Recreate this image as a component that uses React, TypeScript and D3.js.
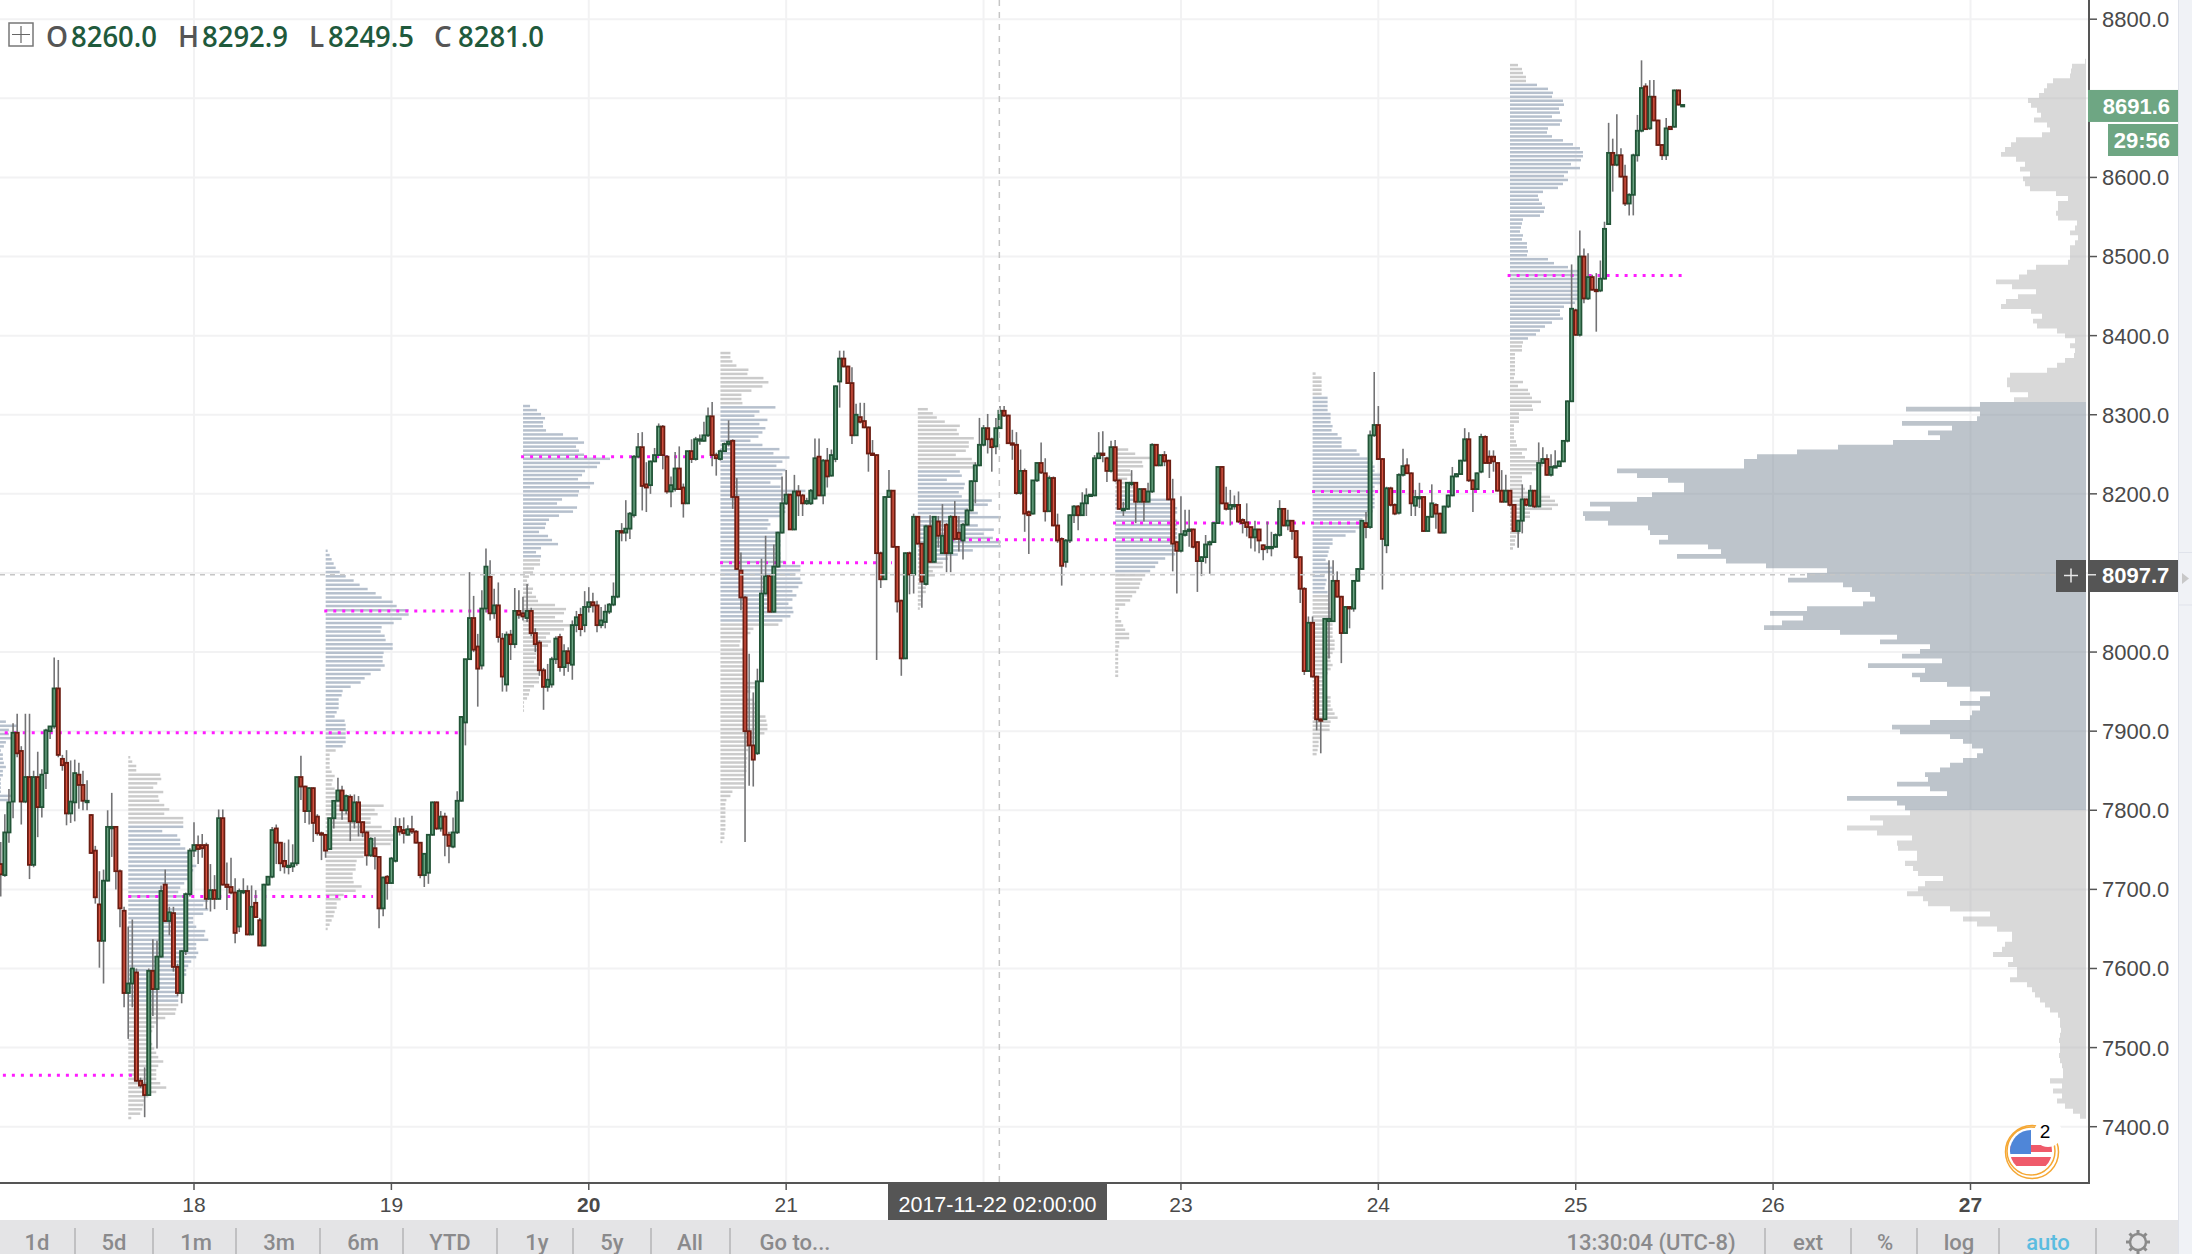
import React from 'react'
import * as d3 from 'd3'

const width = 2192, height = 1254

// 30 minute bars, the first one opens at day 17 00:00
const barsPerDay = 48
const firstDay = 17
const opens = [
  7678,7732,7718,7772,7811,7898,7875,7811,7842,7731,
  7842,7804,7847,7900,7906,7954,7865,7860,7796,7810,
  7845,7832,7812,7794,7749,7681,7635,7711,7779,7779,
  7723,7673,7569,7581,7595,7458,7453,7440,7597,7574,
  7615,7706,7660,7670,7602,7569,7622,7694,7749,7756,
  7756,7756,7688,7699,7688,7790,7706,7703,7696,7653,
  7698,7698,7643,7683,7661,7629,7706,7716,7777,7759,
  7736,7730,7729,7733,7842,7830,7799,7828,7792,7771,
  7769,7751,7790,7812,7825,7800,7817,7786,7810,7785,
  7772,7743,7752,7741,7676,7716,7708,7736,7779,7775,
  7769,7776,7773,7759,7718,7721,7769,7810,7777,7792,
  7769,7754,7772,7812,7911,7991,8043,8007,7983,8055,
  8095,8049,8059,8017,7959,8022,8010,8052,8049,8043,
  8052,8024,8012,7977,7956,7959,7991,8019,7981,8001,
  7984,8034,8047,8034,8057,8063,8059,8034,8038,8051,
  8060,8070,8153,8151,8156,8173,8247,8259,8212,8211,
  8241,8249,8285,8247,8203,8206,8232,8208,8188,8254,
  8244,8269,8267,8274,8298,8249,8244,8254,8263,8267,
  8196,8103,8069,7900,7882,7872,7963,8074,8096,8051,
  8108,8151,8188,8199,8155,8203,8198,8188,8188,8194,
  8247,8198,8242,8223,8244,8342,8371,8361,8340,8274,
  8297,8292,8284,8251,8249,8125,8092,8196,8204,8133,
  8065,7992,8125,8098,8171,8137,8086,8159,8114,8165,
  8125,8161,8125,8171,8151,8141,8161,8179,8216,8236,
  8262,8283,8269,8260,8283,8305,8299,8264,8262,8201,
  8229,8177,8175,8217,8239,8226,8178,8220,8160,8143,
  8114,8141,8173,8184,8173,8188,8198,8198,8245,8251,
  8245,8229,8259,8217,8181,8181,8214,8214,8190,8206,
  8190,8203,8262,8236,8249,8242,8193,8139,8128,8148,
  8153,8155,8139,8115,8120,8136,8139,8163,8234,8188,
  8181,8186,8186,8167,8164,8158,8145,8155,8135,8133,
  8133,8133,8148,8181,8160,8166,8153,8120,8080,7976,
  8037,7969,7915,7915,8039,8039,8090,8070,8024,8057,
  8055,8090,8105,8163,8158,8274,8287,8244,8135,8207,
  8186,8176,8224,8236,8226,8185,8196,8196,8153,8171,
  8186,8175,8151,8184,8198,8222,8225,8242,8269,8217,
  8206,8228,8272,8247,8247,8239,8204,8190,8204,8186,
  8153,8166,8193,8185,8204,8184,8239,8244,8224,8234,
  8235,8241,8267,8317,8432,8401,8500,8447,8474,8458,
  8457,8472,8541,8631,8616,8628,8601,8567,8578,8628,
  8659,8715,8662,8702,8672,8641,8628,8664,8664,8710,
  8691.6,
]
const closes = [
  7718,7719,7772,7810,7898,7872,7811,7842,7731,7842,
  7804,7845,7901,7906,7954,7870,7857,7796,7811,7847,
  7832,7812,7812,7746,7690,7635,7711,7779,7779,7723,
  7676,7569,7581,7600,7458,7452,7440,7597,7574,7615,
  7698,7660,7671,7602,7569,7622,7694,7749,7756,7751,
  7752,7688,7699,7688,7790,7706,7703,7696,7645,7698,
  7698,7643,7678,7665,7629,7706,7716,7775,7759,7733,
  7729,7730,7733,7842,7830,7799,7828,7784,7771,7769,
  7749,7790,7812,7825,7800,7818,7786,7810,7785,7772,
  7743,7764,7742,7676,7715,7708,7739,7779,7773,7771,
  7776,7773,7759,7718,7745,7769,7810,7777,7792,7769,
  7755,7772,7812,7918,7991,8043,8003,7979,8055,8108,
  8049,8059,8019,7969,8022,8010,8052,8047,8045,8052,
  8024,8010,7977,7956,7965,7991,8017,7981,8001,7986,
  8034,8044,8029,8057,8063,8059,8034,8040,8051,8060,
  8070,8153,8151,8156,8175,8247,8259,8210,8208,8241,
  8249,8285,8249,8203,8211,8232,8206,8188,8254,8244,
  8269,8269,8274,8298,8249,8245,8254,8263,8266,8196,
  8105,8069,7900,7882,7864,7963,8074,8096,8051,8108,
  8151,8188,8199,8155,8203,8198,8188,8191,8204,8245,
  8198,8242,8222,8249,8336,8371,8361,8340,8274,8300,
  8291,8284,8251,8249,8125,8092,8196,8204,8133,8064,
  7992,8125,8098,8171,8137,8089,8159,8114,8171,8147,
  8147,8125,8171,8143,8143,8161,8179,8216,8236,8262,
  8283,8269,8259,8283,8305,8299,8264,8262,8201,8229,
  8175,8173,8217,8239,8227,8178,8220,8160,8141,8109,
  8141,8173,8184,8173,8188,8198,8199,8245,8251,8249,
  8229,8259,8217,8181,8181,8214,8214,8190,8206,8190,
  8203,8262,8236,8249,8241,8193,8137,8128,8149,8153,
  8155,8133,8115,8120,8136,8139,8163,8234,8188,8181,
  8186,8186,8165,8163,8158,8145,8155,8141,8130,8133,
  8133,8148,8181,8160,8166,8153,8120,8080,7976,8037,
  7969,7915,7914,8042,8042,8090,8070,8024,8057,8055,
  8090,8105,8166,8158,8274,8287,8244,8143,8207,8186,
  8175,8224,8235,8226,8188,8196,8196,8153,8171,8188,
  8175,8151,8184,8198,8222,8225,8242,8269,8217,8206,
  8226,8272,8239,8239,8241,8204,8190,8204,8186,8153,
  8166,8193,8186,8204,8184,8239,8244,8224,8234,8235,
  8241,8267,8317,8434,8401,8500,8447,8474,8458,8457,
  8472,8535,8631,8616,8628,8601,8567,8578,8628,8659,
  8713,8661,8702,8672,8641,8628,8662,8661,8710,8692,
  8691.6,
]
const highs = [
  7770,7760,7795,7827,7910,7922,7881,7922,7922,7850,
  7874,7852,7903,7906,7993,7990,7870,7876,7863,7864,
  7860,7850,7838,7795,7755,7723,7725,7800,7822,7780,
  7725,7678,7653,7662,7600,7462,7475,7600,7637,7635,
  7705,7725,7678,7678,7606,7623,7696,7752,7785,7768,
  7770,7759,7732,7718,7801,7801,7734,7740,7714,7701,
  7714,7705,7705,7699,7664,7707,7716,7779,7782,7760,
  7759,7763,7757,7842,7869,7831,7829,7829,7795,7773,
  7770,7790,7813,7841,7831,7820,7820,7820,7818,7786,
  7773,7766,7766,7742,7716,7718,7741,7791,7790,7791,
  7781,7793,7775,7760,7745,7770,7811,7811,7799,7797,
  7773,7791,7824,7919,7991,8101,8071,8023,8078,8131,
  8116,8080,8088,8024,8026,8028,8081,8078,8070,8086,
  8056,8030,8015,7980,7985,7994,8020,8023,8010,8006,
  8040,8052,8056,8077,8082,8075,8065,8057,8060,8062,
  8088,8153,8163,8192,8177,8249,8277,8278,8240,8242,
  8258,8289,8287,8249,8222,8253,8260,8213,8254,8269,
  8272,8275,8291,8309,8316,8252,8256,8265,8293,8269,
  8220,8126,8071,7998,7949,7979,8118,8147,8097,8136,
  8152,8222,8230,8200,8224,8211,8200,8195,8206,8270,
  8270,8244,8258,8256,8337,8381,8381,8362,8360,8314,
  8315,8315,8285,8268,8250,8127,8197,8230,8205,8134,
  8066,8126,8127,8175,8172,8138,8161,8173,8172,8172,
  8187,8163,8173,8191,8172,8163,8181,8217,8240,8296,
  8287,8301,8271,8296,8311,8311,8300,8281,8278,8256,
  8232,8179,8217,8240,8265,8245,8223,8222,8175,8145,
  8143,8174,8186,8186,8202,8207,8199,8249,8278,8279,
  8247,8267,8268,8218,8190,8215,8230,8215,8207,8207,
  8214,8264,8263,8249,8254,8243,8219,8139,8197,8180,
  8180,8156,8140,8121,8148,8141,8164,8235,8235,8209,
  8205,8198,8203,8169,8188,8158,8166,8156,8136,8165,
  8152,8150,8192,8181,8180,8167,8154,8121,8082,8045,
  8045,7970,7916,8043,8116,8116,8102,8071,8058,8058,
  8091,8106,8167,8177,8280,8354,8311,8245,8209,8209,
  8188,8226,8257,8245,8227,8205,8214,8197,8171,8212,
  8188,8176,8185,8199,8234,8226,8243,8283,8278,8218,
  8227,8276,8274,8255,8255,8240,8230,8224,8205,8187,
  8167,8212,8194,8211,8205,8265,8259,8250,8250,8255,
  8242,8268,8318,8490,8434,8533,8510,8504,8477,8479,
  8495,8544,8669,8649,8680,8637,8616,8580,8630,8679,
  8748,8719,8723,8723,8673,8642,8675,8665,8711,8711,
  8691.6,
]
const lows = [
  7660,7691,7716,7759,7790,7867,7782,7809,7713,7728,
  7766,7791,7827,7890,7903,7867,7850,7781,7784,7786,
  7802,7800,7800,7745,7682,7601,7581,7710,7741,7700,
  7652,7551,7511,7551,7457,7449,7412,7439,7540,7499,
  7614,7659,7642,7596,7565,7556,7617,7691,7741,7732,
  7740,7675,7672,7675,7687,7705,7674,7694,7632,7646,
  7694,7642,7642,7664,7629,7628,7705,7714,7732,7723,
  7720,7719,7722,7730,7813,7784,7782,7760,7768,7737,
  7740,7750,7777,7811,7788,7795,7761,7777,7767,7766,
  7730,7741,7725,7651,7666,7687,7707,7734,7768,7758,
  7768,7770,7758,7714,7703,7707,7768,7775,7773,7742,
  7733,7752,7770,7811,7882,7990,8000,7931,7978,8050,
  8040,8042,8012,7950,7950,7990,8005,8042,8040,8038,
  8020,8000,7970,7927,7950,7955,7985,7975,7970,7975,
  7965,8025,8020,8025,8050,8050,8025,8030,8030,8048,
  8058,8068,8140,8140,8143,8170,8245,8179,8177,8200,
  8240,8248,8231,8200,8183,8203,8205,8170,8187,8239,
  8242,8262,8266,8272,8235,8223,8242,8253,8260,8181,
  8104,8053,7760,7831,7830,7870,7963,8073,8050,8050,
  8107,8150,8186,8155,8154,8172,8172,8186,8186,8193,
  8197,8187,8208,8222,8240,8309,8360,8339,8263,8273,
  8289,8283,8228,8248,7990,8081,8091,8195,8132,8050,
  7970,7991,8073,8074,8136,8056,8084,8113,8113,8132,
  8124,8101,8101,8141,8127,8117,8160,8178,8188,8235,
  8260,8251,8228,8250,8282,8297,8263,8243,8199,8199,
  8152,8124,8174,8215,8225,8165,8177,8159,8138,8084,
  8107,8138,8163,8154,8172,8172,8197,8197,8244,8240,
  8215,8227,8215,8180,8172,8180,8210,8163,8189,8165,
  8189,8201,8235,8235,8235,8192,8102,8074,8126,8146,
  8133,8131,8076,8096,8112,8099,8138,8162,8187,8179,
  8160,8180,8163,8150,8146,8131,8127,8125,8116,8125,
  8121,8132,8146,8159,8154,8142,8118,8062,7971,7975,
  7968,7901,7872,7914,7992,8038,8069,7986,8023,8030,
  8051,8089,8104,8144,8156,8272,8243,8079,8125,8184,
  8173,8174,8222,8225,8172,8172,8182,8152,8152,8170,
  8156,8150,8150,8182,8197,8221,8224,8241,8215,8177,
  8205,8226,8238,8220,8228,8203,8189,8189,8184,8152,
  8132,8150,8184,8184,8182,8183,8238,8223,8222,8233,
  8234,8240,8265,8316,8400,8399,8441,8445,8457,8405,
  8455,8471,8540,8582,8614,8600,8564,8552,8552,8620,
  8657,8660,8660,8671,8640,8622,8622,8660,8663,8691,
  8691.6,
]

// session volume profiles, one per 16:00 session, rows listed top to bottom
const session0 = [75,86,78,78,80,75,73,70,72,72,73,75,72,72,70,70,70,70,80,78]
const session1 = [2,4,8,8,32,33,29,25,35,30,31,36,41,36,55,55,55,34,49,52,52,57,60,62,63,68,65,62,62,56,52,50,60,80,75,80,75,65,65,68,77,76,80,68,68,70,68,63,60,58,58,53,52,50,50,50,50,50,48,47,37,28,26,24,22,22,24,26,28,30,35,30,28,28,28,32,38,28,20,16,15,14,12,3]
const session2 = [2,4,6,8,10,14,20,28,34,42,50,56,67,71,83,83,76,68,56,55,59,60,67,67,58,57,57,59,55,45,39,35,25,17,16,13,13,13,11,9,19,20,20,20,20,20,17,10,4,4,4,4,6,9,7,6,9,12,11,18,58,49,52,45,45,56,65,69,69,65,51,45,38,31,30,30,27,27,28,36,30,18,15,11,11,9,8,6,4,2]
const session3 = [7,14,18,22,20,20,23,40,55,61,53,56,61,87,77,74,62,59,55,71,67,56,55,39,34,54,50,36,26,23,22,16,25,29,35,18,13,18,17,17,11,10,6,4,6,10,9,13,15,32,43,41,32,40,52,41,27,23,28,25,18,13,13,11,16,15,16,16,16,11,7,6,4,1,1,1]
const session4 = [10,10,12,16,28,27,43,48,42,31,21,21,22,55,39,34,47,39,45,42,38,30,42,59,53,69,62,56,65,62,62,50,60,85,75,75,70,65,65,62,48,50,47,60,55,60,60,55,60,60,65,80,80,75,80,82,78,72,76,72,68,72,73,70,62,58,33,30,25,20,19,24,24,24,22,23,23,23,23,38,37,30,26,33,36,38,39,45,46,47,47,44,36,34,30,28,26,27,26,26,26,25,24,24,24,12,10,6,5,5,5,5,5,5,5,4,4,2]
const session5 = [10,15,19,27,42,39,41,56,51,51,48,38,54,57,58,42,44,29,47,46,41,44,74,70,50,60,83,50,60,76,66,75,83,83,55,40,30,25,25,15,17,8,8,8,8,5,4,3,2]
const session6 = [13,20,35,27,28,15,17,12,17,20,20,30,58,60,62,62,58,62,62,62,62,62,62,60,60,60,50,43,40,35,30,27,25,24,21,17,15,10,4,3,3,6,8,10,14,14,4,4,3,3,3,3,3,3,3]
const session7 = [3,9,9,9,9,9,15,15,15,15,18,18,18,20,19,25,29,29,29,44,47,55,60,62,62,68,68,68,62,62,62,62,62,62,60,55,50,55,48,43,33,20,20,17,16,15,13,17,20,20,12,14,13,12,15,16,16,17,17,18,18,20,20,20,20,20,22,22,22,20,18,18,20,18,15,14,14,14,14,14,18,18,18,20,22,25,18,17,17,8,8,6,6,5,4]
const session8 = [8,12,13,16,16,27,38,43,42,53,54,49,50,42,52,50,38,37,42,53,63,70,73,73,71,61,70,58,54,58,53,48,33,28,29,32,35,34,30,13,12,11,10,13,12,17,17,18,17,38,44,58,72,75,80,70,70,70,70,70,65,54,50,50,53,42,35,30,26,18,13,12,12,5,5,5,5,5,5,4,13,8,18,20,22,31,22,23,9,9,9,4,4,4,4,6,7,17,12,15,35,33,29,22,12,12,12,15,20,40,45,48,42,20,20,10,10,10,10,6,5,5,3]

const sessionVolumes = [session0, session1, session2, session3, session4, session5, session6, session7, session8]
const sessionDays = [16.667, 17.667, 18.667, 19.667, 20.667, 21.667, 22.667, 23.667, 24.667]
const sessionTops = [7912, 7867, 8128, 8311, 8378, 8307, 8256, 8352, 8742]
const sessionBottoms = [7813, 7411, 7650, 7926, 7760, 8055, 7970, 7871, 8131]
const valueHighs = [7920, 7782, 8130, 8320, 8314, 8229, 8202, 8325, 8718]
const valueLows = [7800, 7554, 7880, 8118, 8035, 8118, 8102, 8074, 8395]

// point of control lines
const pocPrices = [7465, 7898, 7691, 8052, 8247, 8113, 8142, 8163, 8203, 8476]
const pocStarts = [16.667, 16.95, 17.667, 18.66, 19.657, 20.665, 21.698, 22.656, 23.664, 24.655]
const pocEnds = [17.696, 19.35, 18.907, 19.606, 20.634, 21.536, 22.95, 23.907, 24.586, 25.54]

// visible range profile on the right: above, inside and below the value area
const rangeUpper = [1,14,15,16,33,39,42,47,58,55,49,45,52,39,36,44,70,75,81,85,70,61,66,56,63,61,56,30,18,28,28,30,28,9,11,16,8,11,16,16,16,18,50,59,67,90,74,50,68,80,85,55,44,53,49,29,21,11,16,11,12,21,29,39,76,79,79,76,58,72,88]
const rangeValue = [106,180,106,109,184,134,158,146,193,248,289,329,342,342,469,449,418,402,402,434,449,496,476,503,501,478,438,436,418,427,378,365,409,360,320,259,279,298,243,234,216,211,223,279,316,283,304,322,246,189,206,156,166,184,144,218,161,174,166,139,116,96,106,126,106,114,116,156,194,186,136,123,114,103,109,123,136,146,161,158,189,156,139,239,189,181,203]
const rangeLower = [176,216,203,239,209,174,189,188,169,169,181,173,168,143,161,168,179,163,158,136,96,123,109,89,74,74,81,84,93,73,78,69,69,76,59,54,51,46,41,36,28,26,26,25,26,27,26,26,27,26,24,23,23,36,24,33,24,29,21,13,6,1]
const rangeLevels = [8750, 8316, 7800, 7410]

const priceTicks = d3.range(7400, 8801, 100)
const hiddenPriceLabels = [8700] // sits behind the last price box
const dayTicks = [18, 19, 20, 21, 22, 23, 24, 25, 26, 27]
const hiddenDayLabels = [22] // sits behind the crosshair date box
const boldDays = [20, 27]
const leftButtons = ['1d', '5d', '1m', '3m', '6m', 'YTD', '1y', '5y', 'All', 'Go to...']
const leftButtonX = [37, 114, 196, 279, 363, 450, 537, 612, 690, 795]
const toolbarSeps = [75, 153, 236, 320, 403, 497, 573, 651, 730, 1765, 1851, 1917, 1999, 2096]
const rightButtons = ['13:30:04 (UTC-8)', 'ext', '%', 'log', 'auto']
const rightButtonX = [1651, 1808, 1885, 1959, 2048]
const legendLetters = ['O', 'H', 'L', 'C']
const legendValues = ['8260.0', '8292.9', '8249.5', '8281.0']
const legendLetterX = [46, 178, 309, 434]
const legendValueX = [71, 202, 328, 458]

const lastPrice = 8691.6
const crossPrice = 8097.7
const crossDay = 22.08

const axisX = 2089, axisY = 1183, profileRight = 2086
const sans = '"Liberation Sans", Arial, sans-serif'

const x = d3.scaleLinear().domain([18, 27]).range([194, 1970.5])
const y = d3.scaleLinear().domain([7400, 8800]).range([1126.7, 19.2])
const volume = d3.scaleLinear().domain([0, 500]).range([0, 500])

const rangeArea = (rows: number[], top: number, bottom: number) => {
  const row = d3.scaleLinear().domain([0, rows.length - 1]).range([top, bottom])
  return d3.area<number>()
    .x0(profileRight)
    .x1(d => profileRight - volume(d))
    .y((_, i) => y(row(i)))
    .curve(d3.curveStepBefore)(rows) as string
}

const Gear = ({ cx, cy }: { cx: number; cy: number }) => (
  <g stroke="#8a8a8a" fill="none">
    <circle cx={cx} cy={cy} r={8} strokeWidth={2.5} />
    {d3.range(8).map(i => {
      const a = (i * Math.PI) / 4
      return <line key={i} x1={cx + 8 * Math.cos(a)} y1={cy + 8 * Math.sin(a)}
        x2={cx + 12 * Math.cos(a)} y2={cy + 12 * Math.sin(a)} strokeWidth={3} />
    })}
  </g>
)

const Flag = ({ cx, cy }: { cx: number; cy: number }) => (
  <g>
    <clipPath id="flagClip"><circle cx={cx} cy={cy} r={21} /></clipPath>
    <g clipPath="url(#flagClip)">
      <rect x={cx - 21} y={cy - 21} width={42} height={42} fill="#fff" />
      <rect x={cx - 21} y={cy - 6} width={42} height={7} fill="#ef5a6a" />
      <rect x={cx - 21} y={cy + 6} width={42} height={9} fill="#ef5a6a" />
      <rect x={cx - 21} y={cy - 21} width={21} height={24} fill="#4f86d8" />
    </g>
    <circle cx={cx} cy={cy} r={24} fill="none" stroke="#f5a733" strokeWidth={1.5} />
    <circle cx={cx + 1} cy={cy + 1} r={26.5} fill="none" stroke="#f5a733" strokeWidth={1.5} />
    <circle cx={cx + 17} cy={cy - 18} r={14} fill="#fff" />
    <text x={cx + 14} y={cy - 13.5} fontFamily={sans} fontSize={19} textAnchor="middle" fill="#000">2</text>
  </g>
)

export default function App() {
  const barX = (i: number) => x(firstDay + i / barsPerDay)
  const bodyW = 3.2

  return (
    <svg width={width} height={height} style={{ position: 'absolute', left: 0, top: 0, display: 'block', background: '#fff' }}>
      <defs>
        <clipPath id="plot"><rect x={0} y={0} width={axisX} height={axisY} /></clipPath>
      </defs>

      {/* grid */}
      <g stroke="#f2f2f3" strokeWidth={2}>
        {priceTicks.map(p => <line key={p} x1={0} x2={axisX} y1={y(p)} y2={y(p)} />)}
        {dayTicks.map(d => <line key={d} x1={x(d)} x2={x(d)} y1={0} y2={axisY} />)}
      </g>

      <g clipPath="url(#plot)">
        {/* visible range profile */}
        <path d={rangeArea(rangeUpper, rangeLevels[0], rangeLevels[1])} fill="#b0b0b0" fillOpacity={0.48} />
        <path d={rangeArea(rangeValue, rangeLevels[1], rangeLevels[2])} fill="#7b8998" fillOpacity={0.5} />
        <path d={rangeArea(rangeLower, rangeLevels[2], rangeLevels[3])} fill="#b0b0b0" fillOpacity={0.48} />

        {/* session profiles */}
        {sessionVolumes.map((rows, s) => {
          const row = d3.scaleLinear().domain([0, rows.length - 1]).range([sessionTops[s], sessionBottoms[s]])
          return (
            <g key={s}>
              {rows.map((v, i) => {
                const p = row(i)
                const inValue = p <= valueHighs[s] && p >= valueLows[s]
                return <rect key={i} x={x(sessionDays[s])} y={y(p) - 1.25} width={volume(v)} height={2.5}
                  fill={inValue ? '#b6c0cd' : '#cbcbcb'} />
              })}
            </g>
          )
        })}

        {/* POC lines */}
        {pocPrices.map((p, i) => (
          <line key={i} x1={x(pocStarts[i])} x2={x(pocEnds[i])} y1={y(p)} y2={y(p)}
            stroke="#ff1cff" strokeWidth={3} strokeDasharray="3 6" />
        ))}

        {/* wicks */}
        <g stroke="#737375" strokeWidth={1.6}>
          {opens.map((_, i) => (
            <line key={i} x1={barX(i)} x2={barX(i)} y1={y(highs[i])} y2={y(lows[i])} />
          ))}
        </g>

        {/* bodies */}
        {opens.map((o, i) => {
          const c = closes[i]
          const up = c >= o
          const top = y(Math.max(o, c))
          const h = Math.max(Math.abs(y(o) - y(c)), 1.5)
          return <rect key={i} x={barX(i) - bodyW / 2} y={top} width={bodyW} height={h}
            fill={up ? '#6ba583' : '#d75442'} stroke={up ? '#225437' : '#6b1d12'} strokeWidth={1.8} />
        })}
      </g>

      {/* crosshair */}
      <line x1={0} x2={axisX} y1={y(crossPrice)} y2={y(crossPrice)} stroke="#c6c6c6" strokeWidth={1.5} strokeDasharray="5 5" />
      <line x1={x(crossDay)} x2={x(crossDay)} y1={0} y2={axisY} stroke="#c6c6c6" strokeWidth={1.5} strokeDasharray="6 6" />

      <Flag cx={2031} cy={1151} />

      {/* axes */}
      <line x1={axisX} x2={axisX} y1={0} y2={axisY + 1} stroke="#555" strokeWidth={2} />
      <line x1={0} x2={axisX + 1} y1={axisY} y2={axisY} stroke="#555" strokeWidth={2} />
      <g fontFamily={sans} fontSize={22} fill="#4a4a4a">
        {priceTicks.map(p => (
          <g key={p}>
            <line x1={axisX} x2={axisX + 8} y1={y(p)} y2={y(p)} stroke="#555" strokeWidth={1.5} />
            {!hiddenPriceLabels.includes(p) && <text x={2102} y={y(p)} dy="0.36em">{d3.format('.1f')(p)}</text>}
          </g>
        ))}
      </g>
      <g fontFamily={sans} fontSize={21} fill="#4a4a4a" textAnchor="middle">
        {dayTicks.map(d => (
          <g key={d}>
            <line x1={x(d)} x2={x(d)} y1={axisY} y2={axisY + 7} stroke="#555" strokeWidth={1.5} />
            {!hiddenDayLabels.includes(d) && (
              <text x={x(d)} y={1204} dy="0.36em" fontWeight={boldDays.includes(d) ? 'bold' : 'normal'}>{d}</text>
            )}
          </g>
        ))}
      </g>

      {/* last price and countdown */}
      <rect x={2088} y={y(lastPrice) - 15} width={90} height={32} fill="#6ea683" />
      <text x={2170} y={y(lastPrice) + 1} dy="0.36em" textAnchor="end" fontFamily={sans} fontSize={22} fontWeight="bold" fill="#fff">{d3.format('.1f')(lastPrice)}</text>
      <rect x={2108} y={124} width={70} height={32} fill="#6ea683" />
      <text x={2170} y={140} dy="0.36em" textAnchor="end" fontFamily={sans} fontSize={22} fontWeight="bold" fill="#fff">29:56</text>

      {/* crosshair labels */}
      <rect x={2056} y={560} width={30} height={32} fill="#555" />
      <path d="M2064 575.5H2078M2071 568.5V582.5" stroke="#e8e8e8" strokeWidth={1.5} />
      <rect x={2088} y={560} width={90} height={32} fill="#555" />
      <line x1={2088} x2={2096} y1={y(crossPrice)} y2={y(crossPrice)} stroke="#ddd" strokeWidth={1.5} />
      <text x={2102} y={y(crossPrice)} dy="0.36em" fontFamily={sans} fontSize={22} fontWeight="bold" fill="#fff">{d3.format('.1f')(crossPrice)}</text>
      <rect x={888} y={1183} width={219} height={37} fill="#555" />
      <text x={997.5} y={1204} dy="0.36em" textAnchor="middle" fontFamily={sans} fontSize={21.5} fill="#fff">2017-11-22 02:00:00</text>

      {/* toolbar */}
      <rect x={0} y={1220} width={2178} height={34} fill="#e4e4e6" />
      <g stroke="#b4b4b6" strokeWidth={1.5}>
        {toolbarSeps.map(s => <line key={s} x1={s} x2={s} y1={1228} y2={1254} />)}
      </g>
      <g fontFamily='Roboto, sans-serif' fontWeight={500} fontSize={22} fill="#8a8a8c" textAnchor="middle">
        {leftButtons.map((t, i) => <text key={t} x={leftButtonX[i]} y={1242} dy="0.36em">{t}</text>)}
        {rightButtons.map((t, i) => (
          <text key={t} x={rightButtonX[i]} y={1242} dy="0.36em" fill={t === 'auto' ? '#5bbce0' : '#8a8a8c'}>{t}</text>
        ))}
      </g>
      <Gear cx={2138} cy={1242} />

      {/* right strip */}
      <rect x={2178} y={0} width={14} height={height} fill="#f0f2f6" />
      <line x1={2178.5} x2={2178.5} y1={0} y2={height} stroke="#e0e3eb" />
      <path d="M2178 552.5H2192M2178 605H2192" stroke="#e0e3eb" />
      <path d="M2182 573L2189 578.5L2182 584Z" fill="#c8c8c8" />

      {/* legend */}
      <rect x={9} y={23} width={24} height={23} fill="#fff" stroke="#777" strokeWidth={1.5} />
      <path d="M12 34.5H30M21 26V43" stroke="#666" strokeWidth={1.2} />
      <g fontFamily='"Open Sans", sans-serif' fontSize={28} fontWeight={600}>
        {legendLetters.map((t, i) => <text key={t} x={legendLetterX[i]} y={37} dy="0.36em" fill="#555">{t}</text>)}
        {legendValues.map((t, i) => (
          <text key={t} x={legendValueX[i]} y={37} dy="0.36em" fill="#1f5a3c" textLength={86} lengthAdjust="spacingAndGlyphs">{t}</text>
        ))}
      </g>
    </svg>
  )
}
